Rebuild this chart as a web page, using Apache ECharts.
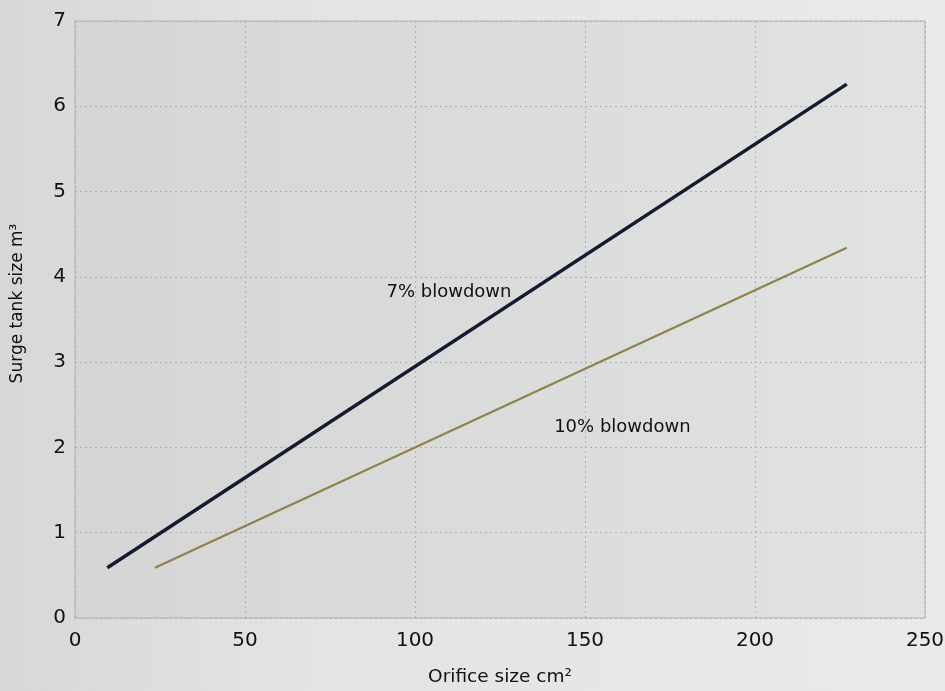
<!DOCTYPE html>
<html>
<head>
<meta charset="utf-8">
<script src="https://cdn.jsdelivr.net/npm/echarts@6/dist/echarts.min.js"></script>
<style>
html,body{margin:0;padding:0;background:#e3e5e4;}
#c{width:945px;height:691px;}
</style>
</head>
<body>
<div id="c"></div>
<script>
const xTicks = [0, 50, 100, 150, 200, 250];
const yTicks = [0, 1, 2, 3, 4, 5, 6, 7];
const seriesNames = ['7% blowdown', '10% blowdown'];
const orifice7 = [9.5, 227];
const tank7 = [0.59, 6.26];
const orifice10 = [23.5, 227];
const tank10 = [0.59, 4.34];
const labelPos7 = [110, 3.82];
const labelPos10 = [161, 2.24];

const font = '"DejaVu Sans", Lato, sans-serif';
const chart = echarts.init(document.getElementById('c'));
chart.setOption({
  animation: false,
  backgroundColor: {
    type: 'linear', x: 0, y: 0, x2: 1, y2: 0,
    colorStops: [
      {offset: 0, color: '#d6d8d7'},
      {offset: 0.3, color: '#e2e4e3'},
      {offset: 1, color: '#e9ebea'}
    ]
  },
  grid: {
    left: 75, right: 20, top: 21, bottom: 73,
    outerBoundsMode: 'none',
    containLabel: false,
    show: true,
    backgroundColor: {
      type: 'linear', x: 0, y: 0, x2: 1, y2: 0,
      colorStops: [
        {offset: 0, color: '#d4d5d4'},
        {offset: 1, color: '#e1e3e2'}
      ]
    },
    borderColor: '#b0b1b0',
    borderWidth: 1
  },
  xAxis: {
    type: 'value', min: xTicks[0], max: xTicks[xTicks.length - 1], interval: 50,
    name: 'Orifice size cm²', nameLocation: 'middle', nameGap: 50,
    nameTextStyle: {fontFamily: font, fontSize: 18.5, color: '#111'},
    axisLine: {show: false}, axisTick: {show: false},
    axisLabel: {fontFamily: font, fontSize: 20, color: '#111', margin: 13},
    splitLine: {show: true, lineStyle: {color: '#b0b1b0', type: [2, 3], width: 1}}
  },
  yAxis: {
    type: 'value', min: yTicks[0], max: yTicks[yTicks.length - 1], interval: 1,
    name: 'Surge tank size m³', nameLocation: 'middle', nameGap: 49,
    nameTextStyle: {fontFamily: font, fontSize: 17, color: '#111', padding: [0, 0, 0, 32]},
    axisLine: {show: false}, axisTick: {show: false},
    axisLabel: {fontFamily: font, fontSize: 20, color: '#111', margin: 9},
    splitLine: {show: true, lineStyle: {color: '#b0b1b0', type: [2, 3], width: 1}}
  },
  series: [
    {
      name: seriesNames[0], type: 'line', symbol: 'none',
      data: orifice7.map((x, i) => [x, tank7[i]]),
      lineStyle: {color: '#151a2e', width: 3.5},
      markPoint: {
        symbol: 'rect', symbolSize: 1, itemStyle: {color: 'rgba(0,0,0,0)'},
        label: {show: true, formatter: seriesNames[0], fontFamily: font, fontSize: 18, color: '#111', position: 'inside'},
        data: [{coord: labelPos7}]
      }
    },
    {
      name: seriesNames[1], type: 'line', symbol: 'none',
      data: orifice10.map((x, i) => [x, tank10[i]]),
      lineStyle: {color: '#8f834a', width: 2.2},
      markPoint: {
        symbol: 'rect', symbolSize: 1, itemStyle: {color: 'rgba(0,0,0,0)'},
        label: {show: true, formatter: seriesNames[1], fontFamily: font, fontSize: 18, color: '#111', position: 'inside'},
        data: [{coord: labelPos10}]
      }
    }
  ]
});
</script>
</body>
</html>
